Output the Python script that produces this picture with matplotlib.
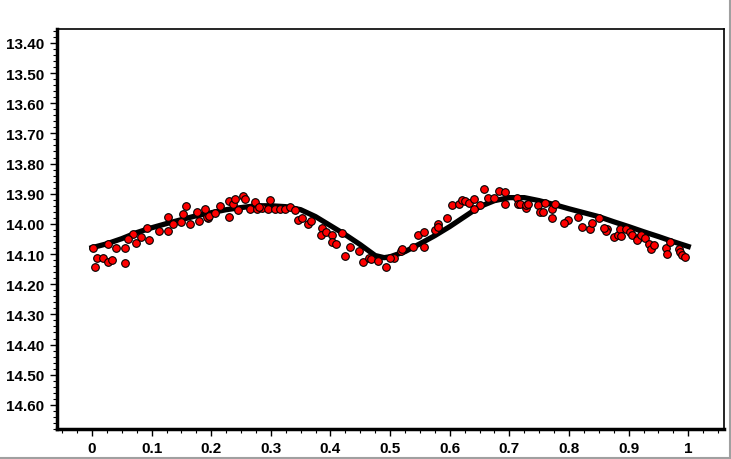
import matplotlib
matplotlib.use("Agg")
import matplotlib.pyplot as plt
from matplotlib.ticker import MultipleLocator, FormatStrFormatter, FuncFormatter
from matplotlib.lines import Line2D

# observed points (phase, magnitude)
phase = [0.002, 0.005, 0.008, 0.018, 0.026, 0.033, 0.027, 0.041, 0.055, 0.055,
         0.068, 0.074, 0.083, 0.095, 0.092, 0.112, 0.127, 0.128, 0.136, 0.150,
         0.152, 0.158, 0.164, 0.176, 0.190, 0.195, 0.193, 0.196, 0.207, 0.215,
         0.229, 0.229, 0.237, 0.240, 0.254, 0.257, 0.245, 0.265, 0.273, 0.276,
         0.285, 0.299, 0.296, 0.307, 0.315, 0.324, 0.332, 0.345, 0.353, 0.362,
         0.368, 0.385, 0.384, 0.392, 0.402, 0.402, 0.410, 0.425, 0.432, 0.448,
         0.455, 0.464, 0.468, 0.480, 0.493, 0.506, 0.519, 0.520, 0.539, 0.546,
         0.557, 0.557, 0.575, 0.581, 0.580, 0.596, 0.604, 0.615, 0.620, 0.626,
         0.633, 0.641, 0.651, 0.658, 0.665, 0.675, 0.683, 0.692, 0.692, 0.713,
         0.714, 0.718, 0.728, 0.728, 0.731, 0.748, 0.752, 0.757, 0.771, 0.771,
         0.776, 0.799, 0.792, 0.815, 0.822, 0.836, 0.839, 0.864, 0.862, 0.859,
         0.876, 0.882, 0.886, 0.888, 0.896, 0.903, 0.906, 0.915, 0.914, 0.921,
         0.927, 0.935, 0.938, 0.943, 0.963, 0.964, 0.985, 0.987, 0.990, 0.995,
         0.060, 0.180, 0.280, 0.340, 0.420, 0.500, 0.640, 0.760, 0.850, 0.970]
mag = [14.081, 14.142, 14.114, 14.112, 14.125, 14.121, 14.066, 14.081, 14.081, 14.130,
       14.033, 14.062, 14.043, 14.052, 14.014, 14.025, 14.025, 13.977, 13.999, 13.993,
       13.966, 13.941, 14.002, 13.960, 13.951, 13.982, 13.977, 13.975, 13.965, 13.942,
       13.924, 13.976, 13.933, 13.919, 13.908, 13.917, 13.955, 13.951, 13.929, 13.951,
       13.946, 13.922, 13.951, 13.951, 13.951, 13.951, 13.944, 13.988, 13.980, 14.002,
       13.991, 14.015, 14.037, 14.026, 14.037, 14.061, 14.066, 14.107, 14.078, 14.090,
       14.128, 14.113, 14.118, 14.124, 14.143, 14.113, 14.091, 14.082, 14.077, 14.038,
       14.077, 14.028, 14.019, 14.000, 14.011, 13.980, 13.938, 13.934, 13.921, 13.923,
       13.932, 13.918, 13.939, 13.884, 13.913, 13.913, 13.890, 13.933, 13.893, 13.913,
       13.933, 13.933, 13.946, 13.938, 13.934, 13.937, 13.962, 13.960, 13.980, 13.952,
       13.934, 13.987, 13.998, 13.977, 14.010, 14.018, 13.998, 14.017, 14.024, 14.013,
       14.044, 14.038, 14.016, 14.041, 14.017, 14.028, 14.037, 14.046, 14.054, 14.037,
       14.046, 14.068, 14.084, 14.070, 14.079, 14.099, 14.082, 14.093, 14.104, 14.109,
       14.050, 13.990, 13.945, 13.955, 14.030, 14.112, 13.950, 13.930, 13.980, 14.060]

fit_phase = [0.0, 0.025, 0.05, 0.075, 0.1, 0.125, 0.15, 0.175, 0.2, 0.225,
             0.25, 0.275, 0.3, 0.325, 0.35, 0.375, 0.4, 0.425, 0.45, 0.475,
             0.49, 0.5, 0.525, 0.55, 0.575, 0.6, 0.625, 0.65, 0.675, 0.7,
             0.725, 0.75, 0.775, 0.8, 0.825, 0.85, 0.875, 0.9, 0.925, 0.95,
             0.975, 1.0]
fit_mag = [14.079, 14.066, 14.049, 14.029, 14.013, 13.999, 13.986, 13.973, 13.963, 13.953,
           13.946, 13.940, 13.940, 13.943, 13.953, 13.976, 14.006, 14.036, 14.069, 14.105,
           14.112, 14.109, 14.092, 14.066, 14.039, 14.009, 13.976, 13.943, 13.923, 13.913,
           13.913, 13.923, 13.936, 13.950, 13.963, 13.976, 13.993, 14.009, 14.026, 14.042,
           14.059, 14.075]

fig = plt.figure(figsize=(7.31, 4.60), dpi=100)
ax = fig.add_axes([57 / 731, 1 - 430 / 460, (724 - 57) / 731, 400 / 460])

ax.plot(fit_phase, fit_mag, color='black', linewidth=3.8, solid_joinstyle='round', zorder=2)
ax.plot(phase, mag, 'o', color='#ff0000', markeredgecolor='black',
        markeredgewidth=0.8, markersize=5.5, zorder=3)

ax.set_xlim(-0.0587, 1.06)
ax.set_ylim(14.68, 13.354)

ax.xaxis.set_major_locator(MultipleLocator(0.1))
ax.xaxis.set_minor_locator(MultipleLocator(0.025))
ax.xaxis.set_major_formatter(FuncFormatter(lambda v, p: f"{v:g}" if abs(v) > 1e-9 else "0"))
ax.yaxis.set_major_locator(MultipleLocator(0.1))
ax.yaxis.set_minor_locator(MultipleLocator(0.02))
ax.yaxis.set_major_formatter(FormatStrFormatter('%.2f'))

ax.tick_params(which='major', direction='out', length=5, width=1, labelsize=11, pad=4)
ax.tick_params(which='minor', direction='out', length=3, width=0.8)
ax.tick_params(right=False, top=False)
for lab in ax.get_xticklabels() + ax.get_yticklabels():
    lab.set_fontweight('bold')
    lab.set_fontfamily('Liberation Sans')

ax.spines['left'].set_linewidth(2.5)
ax.spines['bottom'].set_linewidth(2.5)
ax.spines['top'].set_linewidth(1.2)
ax.spines['right'].set_linewidth(1.2)

# window border lines
fig.add_artist(Line2D([729.5 / 731, 729.5 / 731], [0, 1], color='#a0a0a0', linewidth=1.5))
fig.add_artist(Line2D([0, 1], [1.5 / 460, 1.5 / 460], color='#a0a0a0', linewidth=1.5))

fig.savefig('out.png', dpi=100)
